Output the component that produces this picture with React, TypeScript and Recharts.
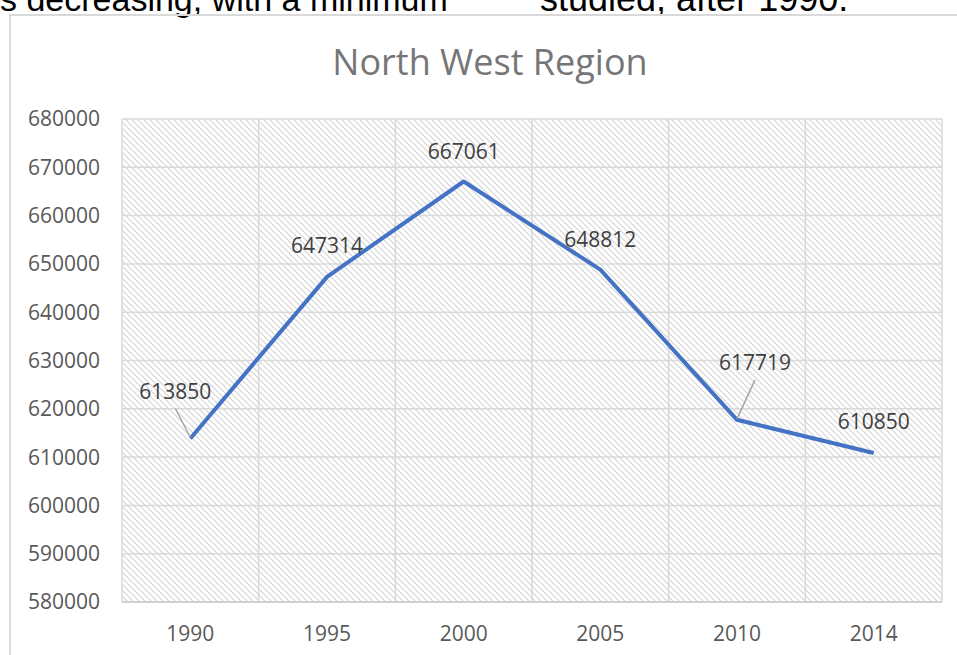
import React from 'react';
import { LineChart, Line, XAxis, YAxis, CartesianGrid, LabelList } from 'recharts';

// values
const years = ['1990', '1995', '2000', '2005', '2010', '2014'];
const population = [613850, 647314, 667061, 648812, 617719, 610850];
const yTicks = [580000, 590000, 600000, 610000, 620000, 630000, 640000, 650000, 660000, 670000, 680000];

const data = years.map((year, i) => ({ year, value: population[i] }));

// label placement relative to each point (dx, dy, leader line)
const labelOffsets = [
  { dx: -15, dy: -48, leader: true },
  { dx: 0, dy: -32, leader: false },
  { dx: 0, dy: -30, leader: false },
  { dx: 0, dy: -31, leader: false },
  { dx: 18, dy: -58, leader: true },
  { dx: 0, dy: -32, leader: false },
];

const FONT = '"Open Sans", "Noto Sans", sans-serif';

const PointLabel = (props: any) => {
  const { x, y, index, value } = props;
  const o = labelOffsets[index] || { dx: 0, dy: -30, leader: false };
  const lx = x + o.dx;
  const ly = y + o.dy;
  return (
    <g>
      {o.leader && (
        <line x1={lx} y1={ly + 18} x2={x} y2={y - 1} stroke="#a6a6a6" strokeWidth={1.5} />
      )}
      <text x={lx} y={ly} textAnchor="middle" dominantBaseline="central" fill="#404040" fontSize={21} fontFamily={FONT}>
        {value}
      </text>
    </g>
  );
};

const gridColumns = ({ offset }: any) =>
  Array.from({ length: years.length + 1 }, (_, i) => offset.left + (i * offset.width) / years.length);

const topText = {
  position: 'absolute' as const, top: -18, whiteSpace: 'nowrap' as const,
  fontFamily: '"Liberation Sans", Arial, sans-serif', fontSize: 34, lineHeight: '34px', color: '#000',
};

export default function App() {
  return (
    <div style={{ position: 'absolute', left: 0, top: 0, width: 957, height: 655, overflow: 'hidden', background: '#fff' }}>
      <div style={{ ...topText, left: 0 }}>s decreasing, with a minimum</div>
      <div style={{ ...topText, left: 540, fontSize: 36 }}>studied, after 1990.</div>
      <div
        style={{
          position: 'absolute', left: 9, top: 14, width: 960, height: 660,
          borderLeft: '2px solid #d9d9d9', borderTop: '2px solid #d9d9d9',
        }}
      />
      <div
        style={{
          position: 'absolute', left: 290, top: 40, width: 400, textAlign: 'center',
          fontFamily: FONT, fontSize: 36, lineHeight: '44px', color: '#767676',
        }}
      >
        North West Region
      </div>
      <div style={{ position: 'absolute', left: 0, top: 0 }}>
        <LineChart width={957} height={655} data={data} margin={{ top: 119, right: 15, bottom: 0, left: 0 }}>
          <defs>
            <pattern id="hatch" width="6" height="6" patternUnits="userSpaceOnUse">
              <rect width="6" height="6" fill="#ffffff" />
              <path d="M0,0 L6,6 M-1,5 L1,7 M5,-1 L7,1" stroke="#d4d4d4" strokeWidth={1.1} />
            </pattern>
          </defs>
          <CartesianGrid
            fill="url(#hatch)"
            fillOpacity={1}
            stroke="#d9d9d9"
            strokeWidth={1.5}
            verticalCoordinatesGenerator={gridColumns}
          />
          <XAxis
            dataKey="year"
            scale="band"
            height={53}
            tickLine={false}
            axisLine={{ stroke: '#d0d0d0', strokeWidth: 2 }}
            tickMargin={18}
            tick={{ fill: '#595959', fontSize: 21, fontFamily: FONT }}
          />
          <YAxis
            width={122}
            domain={[580000, 680000]}
            ticks={yTicks}
            interval={0}
            tickLine={false}
            axisLine={false}
            tickMargin={16}
            tick={{ fill: '#595959', fontSize: 21, fontFamily: FONT }}
          />
          <Line
            type="linear"
            dataKey="value"
            stroke="#4472C4"
            strokeWidth={4}
            strokeLinejoin="round"
            dot={false}
            isAnimationActive={false}
          >
            <LabelList dataKey="value" content={<PointLabel />} />
          </Line>
        </LineChart>
      </div>
    </div>
  );
}
